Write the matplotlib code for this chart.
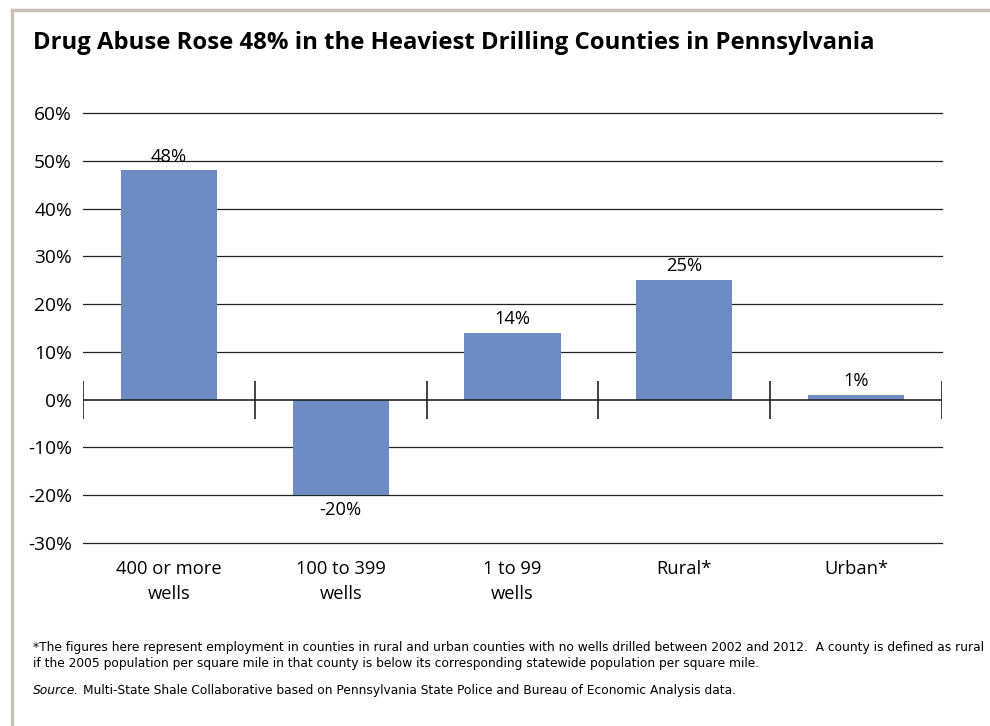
import matplotlib
matplotlib.use("Agg")
from matplotlib import pyplot as plt
from matplotlib import font_manager as fm

categories = ["400 or more\nwells", "100 to 399\nwells", "1 to 99\nwells", "Rural*", "Urban*"]
values = [48, -20, 14, 25, 1]
value_labels = ["48%", "-20%", "14%", "25%", "1%"]
yticks = [-30, -20, -10, 0, 10, 20, 30, 40, 50, 60]

title = "Drug Abuse Rose 48% in the Heaviest Drilling Counties in Pennsylvania"
note1 = ("*The figures here represent employment in counties in rural and urban counties with no wells "
         "drilled between 2002 and 2012.  A county is defined as rural")
note2 = "if the 2005 population per square mile in that county is below its corresponding statewide population per square mile."
source_rest = "Multi-State Shale Collaborative based on Pennsylvania State Police and Bureau of Economic Analysis data."

names = {f.name for f in fm.fontManager.ttflist}
narrow = "Liberation Sans Narrow" if "Liberation Sans Narrow" in names else "DejaVu Sans"
plt.rcParams["font.family"] = ["Open Sans", "DejaVu Sans"]

W, H = 990, 726
fig = plt.figure(figsize=(W / 100, H / 100), dpi=100)

# frame around the figure (left and top edges visible)
fig.add_artist(plt.Line2D([12 / W, 12 / W], [0, 1 - 10 / H], color="#c9c1b8", lw=2.5))
fig.add_artist(plt.Line2D([12 / W, 1], [1 - 10 / H, 1 - 10 / H], color="#c9c1b8", lw=2.5))

fig.text(33 / W, 1 - 43 / H, title, fontsize=17.2, fontweight="bold", ha="left", va="center")

ax = fig.add_axes([83 / W, 1 - 543 / H, (942 - 83) / W, (543 - 113) / H])
x = list(range(len(categories)))
ax.bar(x, values, width=0.56, color="#6c8cc3", zorder=3)
ax.set_xlim(-0.5, len(categories) - 0.5)
ax.set_ylim(-30, 60)

for t in yticks:
    if t != 0:
        ax.axhline(t, color="#222222", lw=0.9, zorder=1, clip_on=False)
ax.axhline(0, color="#222222", lw=1.2, zorder=4)
ax.vlines([i - 0.5 for i in range(len(categories) + 1)], -4, 4, color="#222222", lw=1.2, zorder=4)

for xi, v, lab in zip(x, values, value_labels):
    if v >= 0:
        ax.text(xi, v + 1.0, lab, ha="center", va="bottom", fontsize=13.2)
    else:
        ax.text(xi, v - 1.2, lab, ha="center", va="top", fontsize=13.2)

ax.set_yticks(yticks)
ax.set_yticklabels([f"{t}%" for t in yticks], fontsize=13.8)
ax.set_xticks(x)
ax.set_xticklabels(categories, fontsize=13.2, linespacing=1.55)
ax.tick_params(axis="y", length=0, pad=8)
ax.tick_params(axis="x", length=0, pad=12)
for s in ax.spines.values():
    s.set_visible(False)

fig.text(33 / W, 1 - 647 / H, note1, fontsize=8.8, family=narrow, ha="left", va="center")
fig.text(33 / W, 1 - 663 / H, note2, fontsize=8.8, family=narrow, ha="left", va="center")
src = fig.text(33 / W, 1 - 694 / H, "Source.", fontsize=8.8, family=narrow, style="italic",
               ha="left", va="baseline")
fig.canvas.draw()
bb = src.get_window_extent()
fig.text((bb.x1 + 4) / W, 1 - 694 / H, source_rest, fontsize=8.8, family=narrow,
         ha="left", va="baseline")

fig.savefig("out.png", dpi=100)
